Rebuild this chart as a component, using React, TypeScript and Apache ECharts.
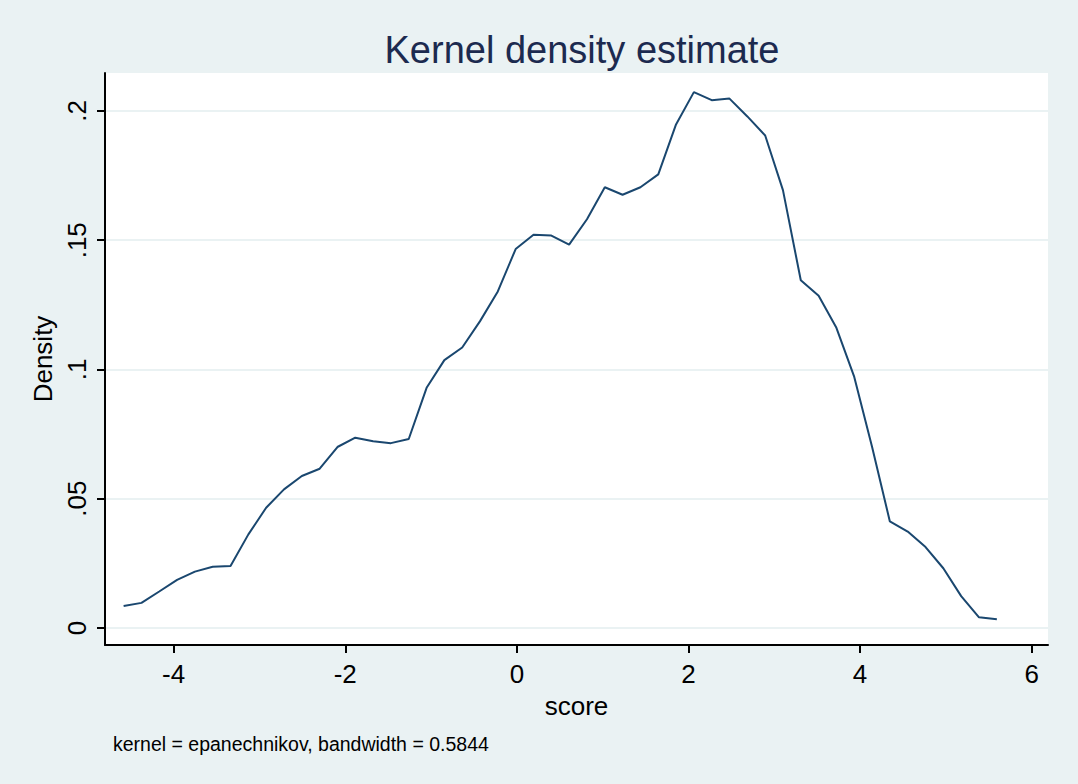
import React, { useEffect, useRef } from "react";
import * as echarts from "echarts";

const scoreX = [
  -4.583, -4.375, -4.168, -3.96, -3.752, -3.545, -3.337, -3.129, -2.922, -2.714,
  -2.506, -2.298, -2.091, -1.883, -1.675, -1.468, -1.26, -1.052, -0.845, -0.637,
  -0.429, -0.222, -0.014, 0.194, 0.402, 0.609, 0.817, 1.025, 1.232, 1.44,
  1.648, 1.855, 2.063, 2.271, 2.478, 2.686, 2.894, 3.101, 3.309, 3.517,
  3.724, 3.932, 4.14, 4.347, 4.555, 4.763, 4.97, 5.178, 5.386, 5.594,
];
const densityY = [
  0.0085, 0.0097, 0.0141, 0.0186, 0.0218, 0.0237, 0.024, 0.0362, 0.0465, 0.0536,
  0.0588, 0.0616, 0.07, 0.0736, 0.0722, 0.0715, 0.0731, 0.0929, 0.1036, 0.1085,
  0.1187, 0.1302, 0.1466, 0.1521, 0.1518, 0.1483, 0.1581, 0.1705, 0.1676, 0.1705,
  0.1755, 0.1948, 0.2073, 0.2042, 0.2048, 0.1979, 0.1905, 0.1694, 0.1345, 0.1285,
  0.1161, 0.0971, 0.07, 0.0412, 0.0373, 0.0313, 0.0231, 0.0123, 0.0041, 0.0034,
];
const xTicks = [-4, -2, 0, 2, 4, 6];
const yTicks = [0, 0.05, 0.1, 0.15, 0.2];
const yTickLabels = ["0", ".05", ".1", ".15", ".2"];

const FONT = "'Liberation Sans', Helvetica, Arial, sans-serif";

export default function App() {
  const ref = useRef<HTMLDivElement>(null);
  useEffect(() => {
    if (!ref.current) return;
    const chart = echarts.init(ref.current, undefined, { renderer: "svg" });
    const data = scoreX.map((x, i) => [x, densityY[i]]);
    chart.setOption({
      animation: false,
      backgroundColor: "#EAF2F3",
      textStyle: { fontFamily: FONT },
      title: [
        {
          text: "Kernel density estimate",
          left: 577,
          top: 26,
          textAlign: "center",
          textStyle: { fontFamily: FONT, fontSize: 38, fontWeight: "normal", color: "#1c2a4f" },
        },
        {
          text: "kernel = epanechnikov, bandwidth = 0.5844",
          left: 108,
          top: 729,
          textStyle: { fontFamily: FONT, fontSize: 19.5, fontWeight: "normal", color: "#000" },
        },
      ],
      grid: {
        left: 105,
        top: 73,
        right: 30,
        bottom: 139,
        show: true,
        backgroundColor: "#ffffff",
        borderWidth: 0,
      },
      xAxis: {
        type: "value",
        min: -4.8,
        max: 6.19,
        name: "score",
        nameLocation: "middle",
        nameGap: 48,
        nameTextStyle: { fontFamily: FONT, fontSize: 26, color: "#000" },
        axisLine: { show: true, onZero: false, lineStyle: { color: "#000", width: 2 } },
        axisTick: { show: true, length: 8, lineStyle: { color: "#000", width: 2 }, customValues: xTicks },
        axisLabel: {
          customValues: xTicks,
          fontFamily: FONT,
          fontSize: 26,
          color: "#000",
          margin: 16,
          formatter: (v: number) => String(v),
        },
        splitLine: { show: false },
      },
      yAxis: {
        type: "value",
        min: -0.0066,
        max: 0.2147,
        name: "Density",
        nameLocation: "middle",
        nameGap: 41,
        nameRotate: 90,
        nameTextStyle: { fontFamily: FONT, fontSize: 26, color: "#000" },
        axisLine: { show: true, onZero: false, lineStyle: { color: "#000", width: 2 } },
        axisTick: { show: true, length: 8, lineStyle: { color: "#000", width: 2 }, customValues: yTicks },
        axisLabel: {
          customValues: yTicks,
          rotate: 90,
          fontFamily: FONT,
          fontSize: 26,
          color: "#000",
          margin: 15,
          formatter: (v: number) => {
            const idx = yTicks.findIndex((t) => Math.abs(t - v) < 1e-9);
            return idx >= 0 ? yTickLabels[idx] : "";
          },
        },
        splitLine: { show: true, lineStyle: { color: "#EAF2F3", width: 2 } },
      },
      series: [
        {
          type: "line",
          data,
          showSymbol: false,
          symbol: "none",
          lineStyle: { color: "#1a476f", width: 2 },
        },
      ],
    });
    return () => chart.dispose();
  }, []);
  return <div ref={ref} style={{ position: "absolute", left: 0, top: 0, width: 1078, height: 784 }} />;
}
